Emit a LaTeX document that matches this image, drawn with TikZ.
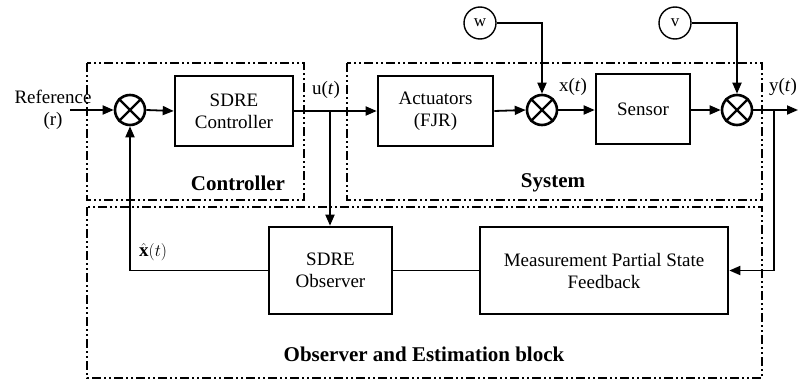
\documentclass[tikz,border=0pt]{standalone}
\usepackage{fontspec}
\setmainfont{Liberation Serif}
\usetikzlibrary{arrows.meta}
\begin{document}
\begin{tikzpicture}[x=1pt,y=-1pt,
  blk/.style={draw,line width=2.6pt,minimum width=#1,inner sep=0pt,align=center,font=\fontsize{19}{22}\selectfont},
  sumnode/.style={draw,circle,line width=2.6pt,minimum size=30pt,inner sep=0pt},
  src/.style={draw,circle,line width=1.4pt,minimum size=32pt,inner sep=0pt,font=\fontsize{17}{20}\selectfont},
  conn/.style={line width=1.8pt},
  arr/.style={conn,-{Triangle[length=11pt,width=9pt]}},
  region/.style={line width=2pt,dash pattern=on 9pt off 3pt on 2pt off 3pt on 2pt off 3pt},
  lbl/.style={font=\fontsize{19}{22}\selectfont},
  blbl/.style={font=\bfseries\fontsize{21}{24}\selectfont}]
\useasboundingbox (0,0) rectangle (798,380);
% regions
\draw[region] (87,63) rectangle (304,200);
\draw[region] (347,63) rectangle (762,200);
\draw[region] (87,207) rectangle (762,378);
\node[blbl] (lc) at (238,183) {Controller};
\node[blbl] (ls) at (553,183) {System};
\node[blbl] (lo) at (424,354) {Observer and Estimation block};
% blocks
\node[blk=118pt,minimum height=70pt] (ctrl) at (234,111) {SDRE\\Controller};
\node[blk=115pt,minimum height=70pt] (act) at (435.5,111) {Actuators\\(FJR)};
\node[blk=94pt,minimum height=70pt] (sen) at (643,109) {Sensor};
\node[blk=123pt,minimum height=87pt] (obs) at (330.5,270.5) {SDRE\\Observer};
\node[blk=248pt,minimum height=87pt] (meas) at (604,270.5) {Measurement Partial State\\Feedback};
% summing junctions
\node[sumnode] (s1) at (130,110) {};
\node[sumnode] (s2) at (542,110) {};
\node[sumnode] (s3) at (737,110) {};
\foreach \s in {s1,s2,s3}{
  \draw[line width=2.4pt] (\s.north west) -- (\s.south east);
  \draw[line width=2.4pt] (\s.north east) -- (\s.south west);
}
\node[src] (w) at (480,23) {w};
\node[src] (v) at (675,23) {v};
% text labels
\node[lbl,align=center] (ref) at (53,110) {Reference\\(r)};
\coordinate (refin) at (70,110);
\node[lbl] (ul) at (326,90) {u(\textit{t})};
\node[lbl] (xl) at (573,87) {x(\textit{t})};
\node[lbl] (yl) at (783,87) {y(\textit{t})};
\node[lbl,anchor=west,inner sep=0pt] (xh) at (139,252) {$\hat{\mathbf{x}}(t)$};
% connectors
\coordinate (uj) at (330,110);
\coordinate (yj) at (774,110);
\coordinate (out) at (798,110);
\draw[arr] (refin) -- (s1.west);
\draw[arr] (s1.east) -- (ctrl.west);
\draw[arr] (ctrl.east) -- (act.west);
\draw[arr] (uj) -- (uj |- obs.north);
\draw[arr] (act.east) -- (s2.west);
\draw[arr] (s2.east) -- (sen.west |- s2.east);
\draw[arr] (sen.east |- s3.west) -- (s3.west);
\draw[arr] (s3.east) -- (out);
\draw[arr] (w.east) -| (s2.north);
\draw[arr] (v.east) -| (s3.north);
\draw[arr] (yj) |- (meas.east);
\draw[conn] (meas.west) -- (obs.east);
\draw[arr] (obs.west) -| (s1.south);
\end{tikzpicture}
\end{document}
